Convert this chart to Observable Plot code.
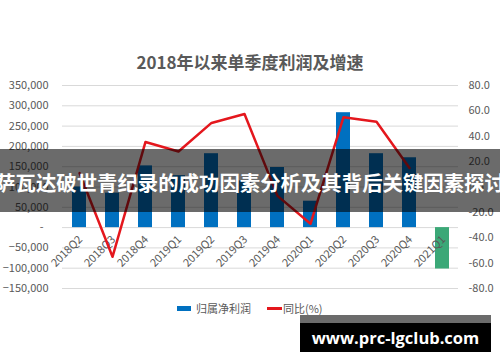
<!DOCTYPE html>
<html>
<head>
<meta charset="utf-8">
<script src="https://cdn.jsdelivr.net/npm/d3@7"></script>
<script src="https://cdn.jsdelivr.net/npm/@observablehq/plot@0.6"></script>
<style>
  html, body { margin: 0; padding: 0; background: #fff; }
  #wrap { position: relative; width: 500px; height: 362px; overflow: hidden; font-family: "Noto Sans CJK SC", "Noto Sans", sans-serif; }
  #title { position: absolute; left: 0; top: 48px; width: 500px; text-align: center; font-size: 17px; font-weight: bold; color: #595959; line-height: 28px; }
  #legend { position: absolute; left: 0; top: 300px; width: 500px; height: 16px; font-size: 11px; color: #595959; }
  #legend .sw { position: absolute; }
  #legend .lb { position: absolute; top: 0; line-height: 16px; }
  #banner { position: absolute; left: 0; top: 149px; width: 500px; height: 63px; background: rgba(0,0,0,0.58); }
  #banner span { position: absolute; left: -10px; width: 520px; top: 0; line-height: 66px; text-align: center; color: #fff; font-weight: bold; font-size: 20.4px; white-space: nowrap; }
  #wmstrip { position: absolute; left: 300px; top: 315px; width: 191px; height: 8px; background: #6b6b6b; }
  #wm { position: absolute; left: 300px; top: 323px; width: 191px; height: 29px; background: #000; color: #fff; font-weight: bold; font-size: 16.5px; line-height: 29px; text-align: center; font-family: "Open Sans", "Noto Sans", sans-serif; }
</style>
</head>
<body>
<div id="wrap">
  <div id="chart"></div>
  <div id="title"></div>
  <div id="legend"></div>
  <div id="banner"><span></span></div>
  <div id="wmstrip"></div>
  <div id="wm"></div>
</div>
<script>
// ---- data ----
const titleText = "2018年以来单季度利润及增速";
const quarters = ["2018Q2","2018Q3","2018Q4","2019Q1","2019Q2","2019Q3","2019Q4","2020Q1","2020Q2","2020Q3","2020Q4","2021Q1"];
const netProfit = [100000, 85000, 152000, 128000, 182000, 115000, 148000, 65000, 283000, 182000, 172000, -102000];
const yoyPct = [11, -55, 35.5, 28, 50.5, 57.5, -7, -29, 55, 51.5, 15, null];
const leftTicks = [350000, 300000, 250000, 200000, 150000, 100000, 50000, 0, -50000, -100000, -150000];
const rightTicks = [80, 60, 40, 20, 0, -20, -40, -60, -80];
const seriesNames = ["归属净利润", "同比(%)"];
const bannerText = "萨瓦达破世青纪录的成功因素分析及其背后关键因素探讨";
const watermarkText = "www.prc-lgclub.com";

const blue = "#0070C0", green = "#3BA877", red = "#E4171D", grid = "#D9D9D9", textCol = "#595959";

// map right axis (%) onto left axis domain
const leftDom = [-150000, 350000], rightDom = [-80, 80];
const toY = p => leftDom[0] + (p - rightDom[0]) / (rightDom[1] - rightDom[0]) * (leftDom[1] - leftDom[0]);

const bars = quarters.map((q, i) => ({q, v: netProfit[i]}));
const pts = quarters.map((q, i) => ({q, p: yoyPct[i]})).filter(d => d.p != null);

const fmtLeft = d => d === 0 ? "-\u00a0\u00a0" : d3.format(",")(d);

const chart = Plot.plot({
  width: 500, height: 362,
  marginTop: 85, marginBottom: 74, marginLeft: 62, marginRight: 42,
  style: {fontFamily: "'Noto Sans CJK SC', 'Noto Sans', sans-serif", fontSize: "11px", color: textCol, background: "transparent"},
  x: {type: "band", domain: quarters, paddingInner: 0.58, paddingOuter: 0.29, axis: null},
  y: {domain: leftDom, axis: null},
  marks: [
    Plot.gridY(leftTicks, {stroke: grid, strokeOpacity: 1, strokeWidth: 1}),
    Plot.axisY(leftTicks, {anchor: "left", tickSize: 0, tickPadding: 14, tickFormat: fmtLeft, fill: textCol, fontSize: 11, label: null}),
    Plot.axisY(rightTicks.map(toY), {anchor: "right", tickSize: 0, tickPadding: 10, tickFormat: (d, i) => rightTicks[i].toFixed(1), fill: textCol, fontSize: 11, label: null}),
    Plot.barY(bars, {x: "q", y: "v", fill: d => d.v < 0 ? green : blue}),
    Plot.text(quarters, {x: d => d, y: () => 0, text: d => d, rotate: -45, textAnchor: "end", dx: 1, dy: 10, fill: textCol, fontSize: 11}),
    Plot.line(pts, {x: "q", y: d => toY(d.p), stroke: red, strokeWidth: 2.5, curve: "linear"})
  ]
});
document.getElementById("chart").appendChild(chart);

document.getElementById("title").textContent = titleText;
document.querySelector("#banner span").textContent = bannerText;
document.getElementById("wm").textContent = watermarkText;

const lg = document.getElementById("legend");
lg.innerHTML =
  `<div class="sw" style="left:177px;top:6px;width:14px;height:5px;background:${blue}"></div>` +
  `<div class="lb" style="left:196px">${seriesNames[0]}</div>` +
  `<div class="sw" style="left:267px;top:7px;width:15px;height:2.5px;background:${red}"></div>` +
  `<div class="lb" style="left:283px">${seriesNames[1]}</div>`;
</script>
</body>
</html>
